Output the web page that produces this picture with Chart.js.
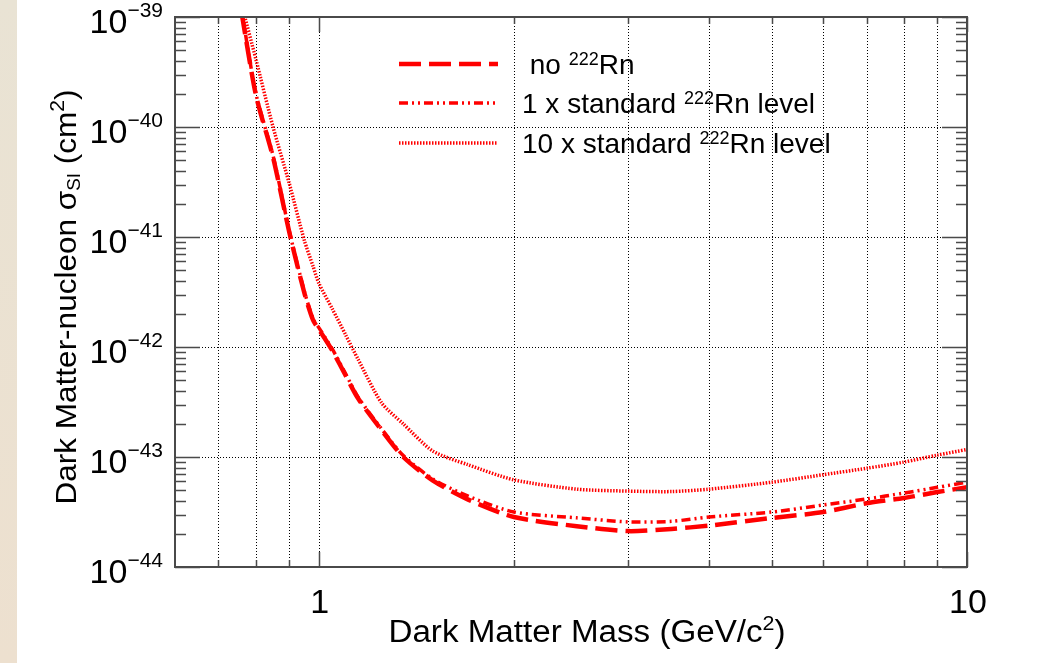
<!DOCTYPE html>
<html>
<head>
<meta charset="utf-8">
<title>Dark matter sensitivity vs 222Rn level</title>
<script src="https://cdn.jsdelivr.net/npm/chart.js@4.4.1/dist/chart.umd.min.js"></script>
<style>
  html, body { margin: 0; padding: 0; background: #fff; }
  #wrap { position: relative; width: 1047px; height: 663px; }
  #edge { position: absolute; left: 0; top: 0; width: 17px; height: 663px;
          background: linear-gradient(#e9e3d4, #ede0cf); }
  canvas { display: block; }
</style>
</head>
<body>
<div id="wrap">
  <canvas id="limitChart" width="1047" height="663"></canvas>
  <div id="edge"></div>
</div>
<script>
// WIMP mass in GeV/c^2
const massGeV = [0.76, 0.8, 0.85, 0.9, 0.95, 0.98, 1.0, 1.05, 1.1, 1.15, 1.25, 1.35, 1.5, 1.7,
                 2, 2.5, 3, 3.5, 4, 5, 6, 7, 8, 9, 10];

// spin-independent cross-section limits, cm^2
const noRn = [1.1e-39, 1.94e-40, 5.3e-41, 1.12e-41, 3.1e-42, 1.75e-42, 1.45e-42, 9.2e-43, 5.5e-43,
              3.4e-43, 1.75e-43, 1.0e-43, 6.1e-44, 4.1e-44, 2.85e-44, 2.35e-44, 2.12e-44, 2.22e-44,
              2.38e-44, 2.79e-44, 3.16e-44, 3.8e-44, 4.24e-44, 4.8e-44, 5.3e-44];
const rn1x = [1.15e-39, 2.0e-40, 5.5e-41, 1.15e-41, 3.2e-42, 1.8e-42, 1.5e-42, 9.5e-43, 5.7e-43,
              3.5e-43, 1.8e-43, 1.03e-43, 6.3e-44, 4.4e-44, 3.16e-44, 2.8e-44, 2.57e-44, 2.6e-44,
              2.85e-44, 3.16e-44, 3.66e-44, 4.15e-44, 4.7e-44, 5.3e-44, 5.9e-44];
const rn10x = [1.3e-39, 4.1e-40, 1.0e-40, 3.1e-41, 9.3e-42, 5.4e-42, 3.8e-42, 2.2e-42, 1.29e-42,
               7.7e-43, 3.1e-43, 2.0e-43, 1.13e-43, 8.5e-44, 6.2e-44, 5.1e-44, 4.9e-44, 4.85e-44,
               5.1e-44, 5.9e-44, 6.9e-44, 7.9e-44, 9.0e-44, 1.04e-43, 1.17e-43];

// axis ranges and labelled ticks
const xRange = [0.6, 10];
const yExpRange = [-44, -39];
const xLabelled = [1, 10];
const xGridValues = [0.7, 0.8, 0.9, 1, 2, 3, 4, 5, 6, 7, 8, 9];

const FONT = "'Liberation Sans', Arial, Helvetica, sans-serif";
const AXIS_COL = '#4a4a4a';

function pts(ys) {
  return massGeV.map((m, i) => ({ x: m, y: ys[i] }));
}

// text made of pieces {t, size, dy}; dy shifts a piece up (superscript) or down
function richWidth(ctx, parts) {
  let w = 0;
  parts.forEach(p => { ctx.font = p.size + 'px ' + FONT; w += ctx.measureText(p.t).width; });
  return w;
}
function drawRich(ctx, parts, x, y, align, sx) {
  sx = sx || 1;
  const w = richWidth(ctx, parts) * sx;
  const x0 = align === 'right' ? x - w : align === 'center' ? x - w / 2 : x;
  ctx.save();
  ctx.translate(x0, y);
  ctx.scale(sx, 1);
  ctx.textAlign = 'left';
  ctx.textBaseline = 'alphabetic';
  let cx = 0;
  parts.forEach(p => {
    ctx.font = p.size + 'px ' + FONT;
    ctx.fillText(p.t, cx, -(p.dy || 0));
    cx += ctx.measureText(p.t).width;
  });
  ctx.restore();
}

const legendRows = [
  { ds: 0, parts: [{ t: ' no ', size: 28 }, { t: '222', size: 18, dy: 9 }, { t: 'Rn', size: 28 }] },
  { ds: 1, parts: [{ t: '1 x standard ', size: 28 }, { t: '222', size: 18, dy: 9 }, { t: 'Rn level', size: 28 }] },
  { ds: 2, parts: [{ t: '10 x standard ', size: 28 }, { t: '222', size: 18, dy: 9 }, { t: 'Rn level', size: 28 }] }
];

const rootFrame = {
  id: 'rootFrame',
  beforeDatasetsDraw(chart) {
    const { ctx, chartArea: a, scales: { x, y } } = chart;
    ctx.save();
    ctx.strokeStyle = '#000';
    ctx.lineWidth = 1;
    ctx.setLineDash([1, 2]);
    xGridValues.forEach(v => {
      const px = Math.round(x.getPixelForValue(v)) + 0.5;
      ctx.beginPath(); ctx.moveTo(px, a.top); ctx.lineTo(px, a.bottom); ctx.stroke();
    });
    for (let e = yExpRange[0] + 1; e < yExpRange[1]; e++) {
      const py = Math.round(y.getPixelForValue(Math.pow(10, e))) + 0.5;
      ctx.beginPath(); ctx.moveTo(a.left, py); ctx.lineTo(a.right, py); ctx.stroke();
    }
    ctx.restore();
  },
  afterDatasetsDraw(chart) {
    const { ctx, chartArea: a, scales: { x, y } } = chart;
    ctx.save();
    ctx.strokeStyle = AXIS_COL;
    ctx.lineWidth = 2;
    ctx.setLineDash([]);
    ctx.strokeRect(a.left, a.top, a.right - a.left, a.bottom - a.top);

    // y ticks, both sides
    for (let e = yExpRange[0]; e < yExpRange[1] + 1; e++) {
      for (let k = 1; k <= 9; k++) {
        const v = k * Math.pow(10, e);
        if (v > Math.pow(10, yExpRange[1]) * 1.0001) break;
        const py = Math.round(y.getPixelForValue(v)) + 0.5;
        const len = k === 1 ? 25 : 11;
        ctx.lineWidth = 1.5;
        ctx.beginPath();
        ctx.moveTo(a.left, py); ctx.lineTo(a.left + len, py);
        ctx.moveTo(a.right, py); ctx.lineTo(a.right - len, py);
        ctx.stroke();
      }
    }
    // x ticks, bottom and top
    xGridValues.concat([10]).forEach(v => {
      const px = Math.round(x.getPixelForValue(v)) + 0.5;
      const len = xLabelled.includes(v) ? 15 : 7;
      ctx.lineWidth = 1.5;
      ctx.beginPath();
      ctx.moveTo(px, a.bottom); ctx.lineTo(px, a.bottom - len);
      ctx.moveTo(px, a.top); ctx.lineTo(px, a.top + len);
      ctx.stroke();
    });

    ctx.fillStyle = '#000';
    // y tick labels 10^n
    for (let e = yExpRange[0]; e <= yExpRange[1]; e++) {
      const py = y.getPixelForValue(Math.pow(10, e));
      drawRich(ctx, [{ t: '10', size: 34 }, { t: '\u2212' + Math.abs(e), size: 21, dy: 16 }],
               a.left - 12, py + 16, 'right');
    }
    // x tick labels
    xLabelled.forEach(v => {
      drawRich(ctx, [{ t: String(v), size: 34 }], x.getPixelForValue(v) + 1, a.bottom + 46, 'center');
    });

    // axis titles
    drawRich(ctx, [{ t: 'Dark Matter Mass (GeV/c', size: 31 }, { t: '2', size: 20, dy: 12 },
                   { t: ')', size: 31 }], 587, 642, 'center', 1.07);
    ctx.save();
    ctx.translate(76, 297);
    ctx.rotate(-Math.PI / 2);
    drawRich(ctx, [{ t: 'Dark Matter-nucleon \u03c3', size: 30 }, { t: 'SI', size: 18, dy: -4 },
                   { t: ' (cm', size: 30 }, { t: '2', size: 20, dy: 12 }, { t: ')', size: 30 }],
             0, 0, 'center', 1.05);
    ctx.restore();

    // legend
    const rowsY = [64, 103, 143];
    legendRows.forEach((row, i) => {
      const ds = chart.data.datasets[row.ds];
      ctx.save();
      ctx.strokeStyle = ds.borderColor;
      ctx.lineWidth = ds.borderWidth;
      ctx.setLineDash(ds.borderDash);
      ctx.beginPath(); ctx.moveTo(399, rowsY[i]); ctx.lineTo(498, rowsY[i]); ctx.stroke();
      ctx.restore();
      ctx.fillStyle = '#000';
      drawRich(ctx, row.parts, 522, rowsY[i] + 10, 'left');
    });
    ctx.restore();
  }
};

new Chart(document.getElementById('limitChart'), {
  type: 'scatter',
  data: {
    datasets: [
      { label: 'no 222Rn', data: pts(noRn), showLine: true, pointRadius: 0,
        borderColor: '#ff0000', borderWidth: 4.5, borderDash: [22, 8], tension: 0.25 },
      { label: '1 x standard 222Rn level', data: pts(rn1x), showLine: true, pointRadius: 0,
        borderColor: '#ff0000', borderWidth: 3.5, borderDash: [9, 4, 2, 4, 2, 4], tension: 0.25 },
      { label: '10 x standard 222Rn level', data: pts(rn10x), showLine: true, pointRadius: 0,
        borderColor: '#ff0000', borderWidth: 3.5, borderDash: [1.5, 1.5], tension: 0.25 }
    ]
  },
  options: {
    responsive: false,
    animation: false,
    layout: { padding: { left: 175, top: 17, right: 80, bottom: 96 } },
    scales: {
      x: { type: 'logarithmic', min: xRange[0], max: xRange[1], display: false },
      y: { type: 'logarithmic', min: Math.pow(10, yExpRange[0]), max: Math.pow(10, yExpRange[1]), display: false }
    },
    plugins: { legend: { display: false }, tooltip: { enabled: false } }
  },
  plugins: [rootFrame]
});
</script>
</body>
</html>
